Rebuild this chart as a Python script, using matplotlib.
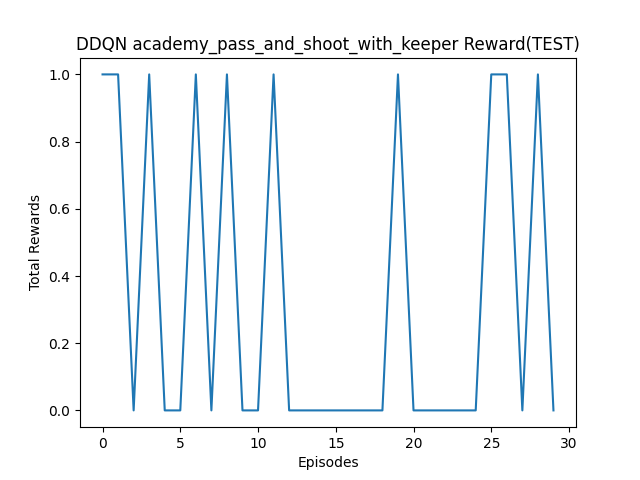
import matplotlib
matplotlib.use("Agg")
import matplotlib.pyplot as plt

# total reward per test episode
episodes = list(range(30))
rewards = [1, 1, 0, 1, 0, 0, 1, 0, 1, 0,
           0, 1, 0, 0, 0, 0, 0, 0, 0, 1,
           0, 0, 0, 0, 0, 1, 1, 0, 1, 0]

plt.figure(figsize=(6.4, 4.8), dpi=100)
plt.plot(episodes, rewards)
plt.title("DDQN academy_pass_and_shoot_with_keeper Reward(TEST)")
plt.xlabel("Episodes")
plt.ylabel("Total Rewards")
plt.savefig("out.png")
